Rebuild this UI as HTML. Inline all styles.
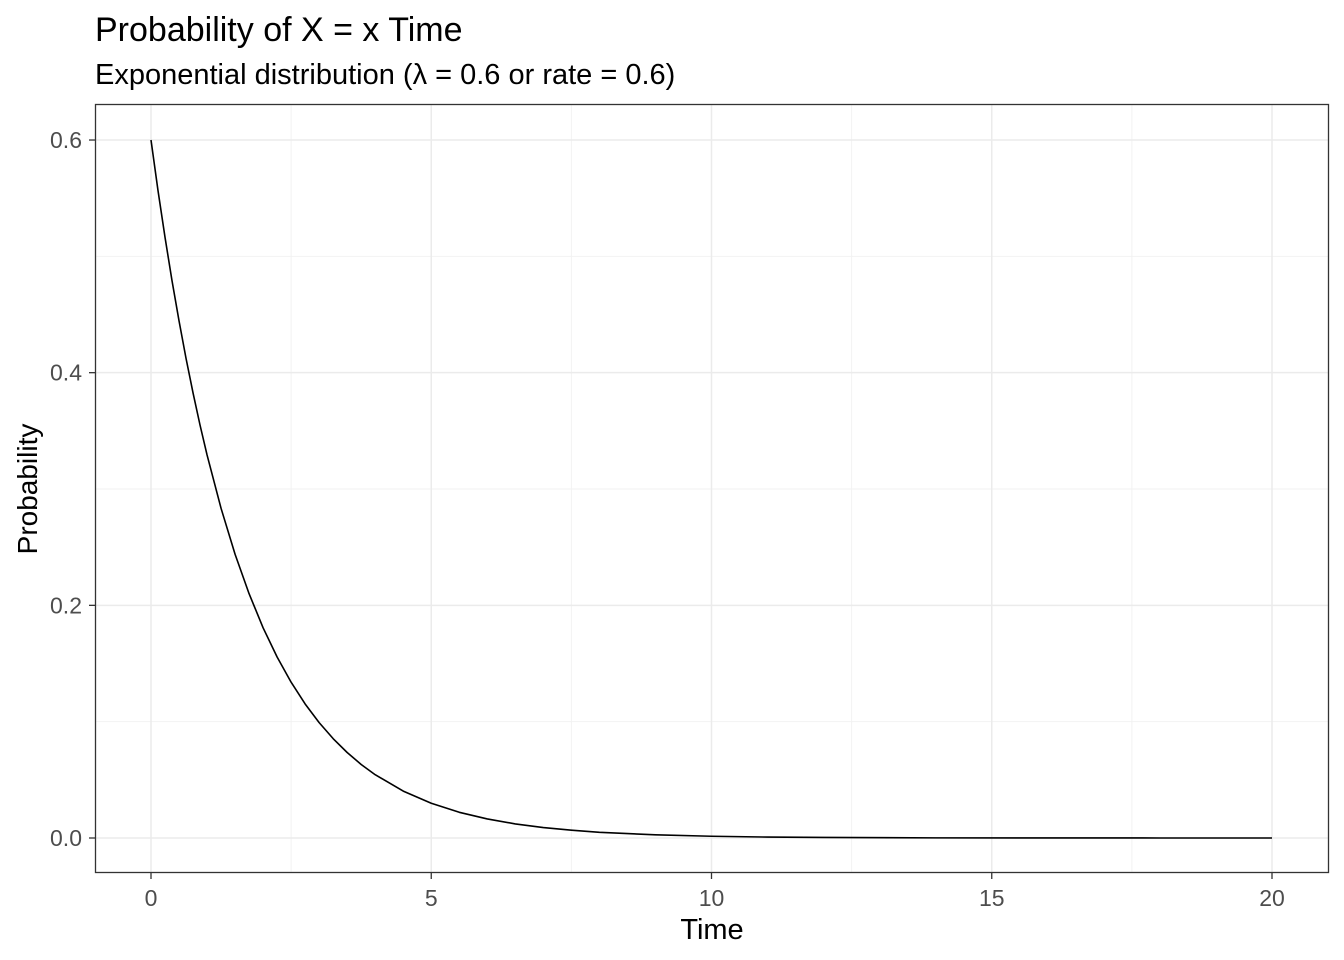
<!DOCTYPE html>
<html><head><meta charset="utf-8"><style>
html,body{margin:0;padding:0;background:#fff;}
svg{display:block;font-family:"Liberation Sans",Arial,sans-serif;}
</style></head><body>
<svg id="chart" width="1344" height="960">
<text x="95" y="41" font-size="34" fill="#000">Probability of X = x Time</text>
<text x="95" y="84" font-size="29" fill="#000">Exponential distribution (λ = 0.6 or rate = 0.6)</text>
<g id="grid"></g>
<g id="xticks"></g>
<g id="yticks"></g>
<path id="curve" fill="none" stroke="#000" stroke-width="1.6" stroke-linejoin="round"/>
<rect x="95.5" y="104.5" width="1233" height="768" fill="none" stroke="#333" stroke-width="1.3"/>
<text x="712" y="939" font-size="29" text-anchor="middle" fill="#000">Time</text>
<text transform="translate(37,489) rotate(-90)" font-size="28" text-anchor="middle" fill="#000">Probability</text>
</svg>
<script>
const times=[0,0.125,0.25,0.375,0.5,0.625,0.75,0.875,1,1.25,1.5,1.75,2,2.25,2.5,2.75,3,3.25,3.5,3.75,4,4.5,5,5.5,6,6.5,7,7.5,8,9,10,11,12,14,16,18,20];
const probs=[0.6,0.5565,0.5164,0.4790,0.4445,0.4123,0.3826,0.3549,0.3293,0.2834,0.2439,0.2100,0.1807,0.1556,0.1339,0.1152,0.0992,0.0854,0.0735,0.0632,0.0544,0.0403,0.0299,0.0221,0.0164,0.0121,0.0090,0.0067,0.0049,0.0027,0.0015,0.0008,0.0005,0.0001,0.00004,0.00001,0];
const xTicks=[0,5,10,15,20];
const yTicks=[0,0.2,0.4,0.6];
const xMinor=[2.5,7.5,12.5,17.5];
const yMinor=[0.1,0.3,0.5];
const ns="http://www.w3.org/2000/svg";
const X=v=>151+v*56.05, Y=v=>838-v*1163.3;
function mk(tag,attrs,parent){const e=document.createElementNS(ns,tag);for(const k in attrs)e.setAttribute(k,attrs[k]);parent.appendChild(e);return e;}
const grid=document.getElementById('grid'),xg=document.getElementById('xticks'),yg=document.getElementById('yticks');
xMinor.forEach(v=>{const l=mk('line',{x1:X(v),x2:X(v),y1:105,y2:872,stroke:'#f2f2f2','stroke-width':1},grid);

});
yMinor.forEach(v=>{const l=mk('line',{x1:96,x2:1328,y1:Y(v),y2:Y(v),stroke:'#f2f2f2','stroke-width':1},grid);

});
xTicks.forEach(v=>{const l=mk('line',{x1:X(v),x2:X(v),y1:105,y2:872,stroke:'#ebebeb','stroke-width':1.5},grid);


const t=mk('line',{x1:X(v),x2:X(v),y1:873,y2:879,stroke:'#333','stroke-width':1.3},xg);


const tx=mk('text',{x:X(v),y:906,'font-size':23,'text-anchor':'middle',fill:'#4d4d4d'},xg);tx.textContent=v;

});
yTicks.forEach(v=>{const l=mk('line',{x1:96,x2:1328,y1:Y(v),y2:Y(v),stroke:'#ebebeb','stroke-width':1.5},grid);


const t=mk('line',{x1:89,x2:95,y1:Y(v),y2:Y(v),stroke:'#333','stroke-width':1.3},yg);


const tx=mk('text',{x:82,y:Y(v)+8,'font-size':23,'text-anchor':'end',fill:'#4d4d4d'},yg);tx.textContent=v.toFixed(1);

});
let d='';
for(let i=0;i<times.length;i++){d+=(i?'L':'M')+X(times[i]).toFixed(2)+','+Y(probs[i]).toFixed(2);}
document.getElementById('curve').setAttribute('d',d);
</script>
</body></html>
